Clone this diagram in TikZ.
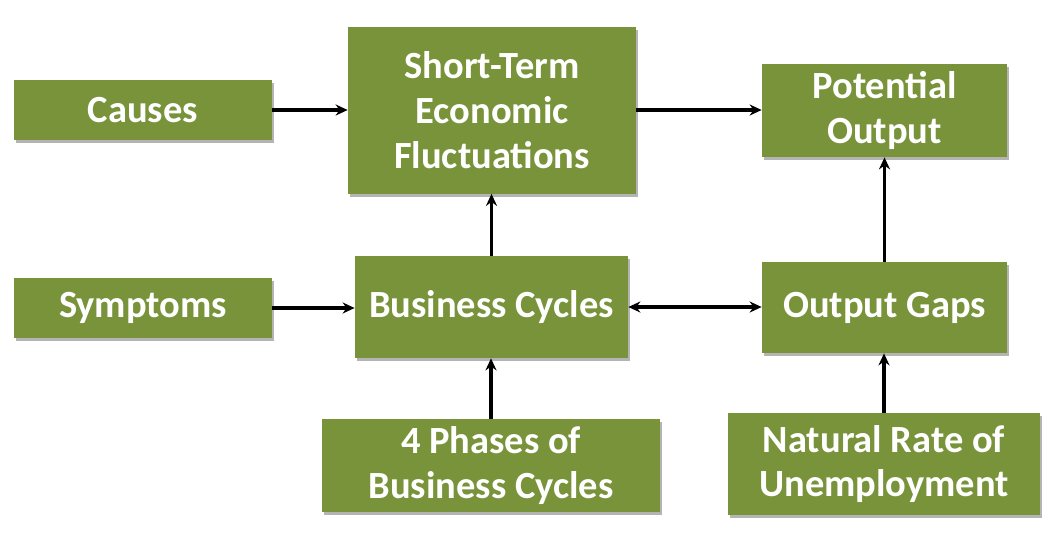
\documentclass[tikz,border=0pt]{standalone}
\usepackage{fontspec}
\setmainfont{Carlito}
\usepackage{tikz}
\usetikzlibrary{arrows.meta,positioning,shadows}
\definecolor{golive}{HTML}{78933A}
\definecolor{gshade}{HTML}{B4B4B4}
\tikzset{
  >={Stealth[length=2.4mm,width=2.2mm]},
  gbox/.style={rectangle, fill=golive, draw=none, text=white,
               font=\fontsize{21.9}{25.6}\selectfont\bfseries, align=center,
               inner sep=0pt,
               drop shadow={shadow xshift=0.35mm, shadow yshift=-0.6mm,
                            fill=gshade, opacity=1}},
  garrow/.style={->, black, line width=0.7mm},
}

\begin{document}
\begin{tikzpicture}[x=0.2mm,y=-0.2mm]
  \useasboundingbox (0,0) rectangle (1057,547);

  \node[gbox, minimum width=51.6mm, minimum height=12mm] (causes) at (143,110) {Causes};
  \node[gbox, minimum width=57.6mm, minimum height=33.4mm] (stef) at (492,110)
       {Short-Term\\Economic\\Fluctuations};
  \node[gbox, minimum width=49mm, minimum height=18.6mm] (potential) at (884.5,110.5)
       {Potential\\Output};
  \node[gbox, minimum width=51.6mm, minimum height=12mm] (symptoms) at (143,308) {Symptoms};
  \node[gbox, minimum width=54.6mm, minimum height=20.4mm] (cycles) at (491.5,307)
       {Business Cycles};
  \node[gbox, minimum width=49mm, minimum height=18.2mm] (gaps) at (884.5,307.5)
       {Output Gaps};
  \node[gbox, minimum width=67.6mm, minimum height=18.6mm] (phases) at (491,465.5)
       {4 Phases of\\Business Cycles};
  \node[gbox, minimum width=62.4mm, minimum height=20.4mm] (natural) at (884,464)
       {Natural Rate of\\Unemployment};

  % horizontal links
  \draw[garrow] (causes) -- (stef.west |- causes);
  \draw[garrow] (stef) -- (potential.west |- stef);
  \draw[garrow] (symptoms) -- (cycles.west |- symptoms);
  \draw[garrow, <->] (cycles) -- (gaps.west |- cycles);

  % vertical links
  \draw[garrow] (cycles) -- (stef.south -| cycles);
  \draw[garrow] (phases) -- (cycles.south -| phases);
  \draw[garrow] (gaps) -- (potential.south -| gaps);
  \draw[garrow] (natural) -- (gaps.south -| natural);

\end{tikzpicture}
\end{document}
